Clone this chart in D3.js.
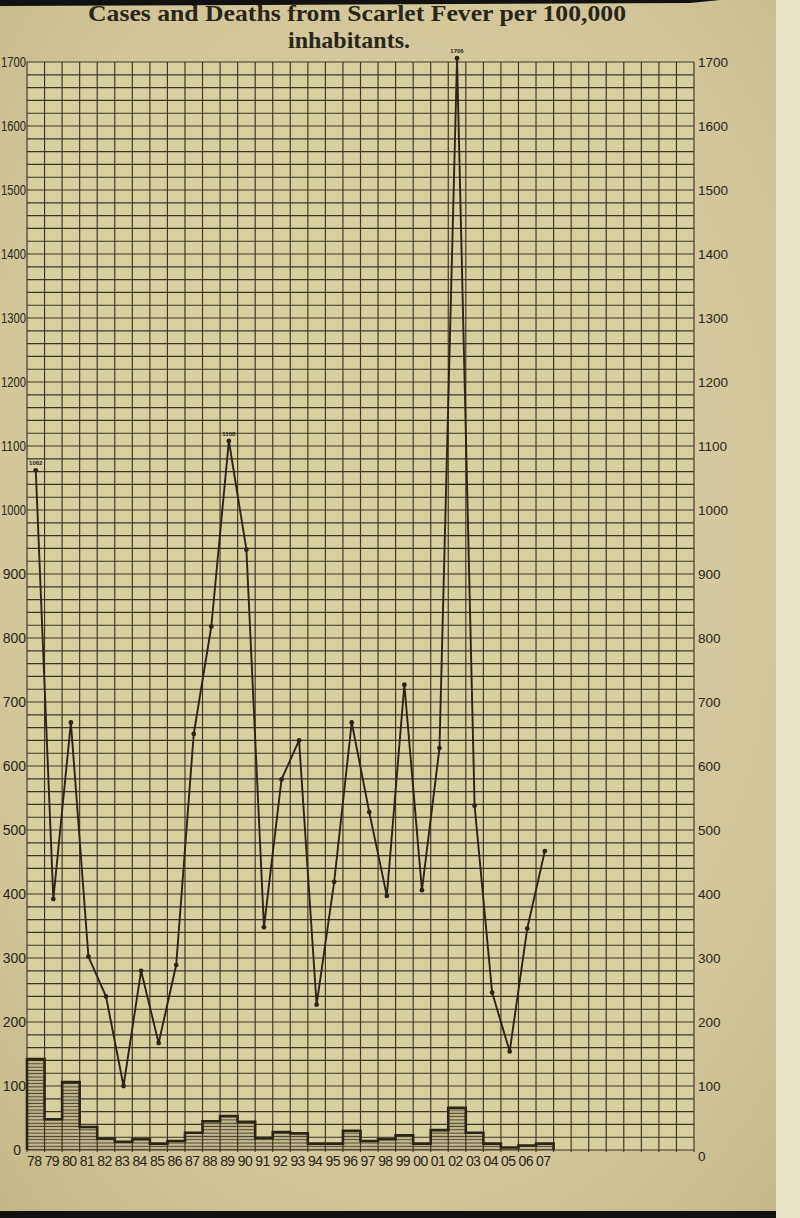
<!DOCTYPE html>
<html>
<head>
<meta charset="utf-8">
<script src="https://cdn.jsdelivr.net/npm/d3@7"></script>
<style>
  html, body { margin: 0; padding: 0; background: #d3c89b; }
  svg { display: block; }
</style>
</head>
<body>
<svg id="chart" width="800" height="1218"></svg>
<script>
// ---------- data ----------
const years = ["78","79","80","81","82","83","84","85","86","87","88","89","90","91","92","93","94","95","96","97","98","99","00","01","02","03","04","05","06","07"];
const blankColumns = ["b1","b2","b3","b4","b5","b6","b7","b8"];
const cases  = [1062, 392, 668, 302, 240, 100, 280, 167, 289, 650, 818, 1108, 938, 348, 579, 640, 227, 419, 668, 528, 397, 727, 406, 628, 1706, 538, 246, 154, 346, 467];
const deaths = [142, 48, 106, 36, 18, 13, 17, 10, 14, 27, 45, 53, 44, 19, 28, 26, 10, 10, 30, 14, 17, 23, 10, 31, 66, 27, 10, 4, 7, 10];
const peakYears  = ["78", "89", "02"];
const peakLabels = ["1062", "1108", "1706"];
const leftTickValues  = [0,100,200,300,400,500,600,700,800,900,1000,1100,1200,1300,1400,1500,1600,1700];
const leftTickLabels  = ["0","100","200","300","400","500","600","700","800","900","1000","1100","1200","1300","1400","1500","1600","1700"];
const rightTickLabels = ["0","100","200","300","400","500","600","700","800","900","1000","1100","1200","1300","1400","1500","1600","1700"];
const titleLines = ["Cases and Deaths from Scarlet Fever per 100,000", "inhabitants."];

// ---------- setup ----------
const svg = d3.select("#chart");
const W = 800, H = 1218;
const ink = "#2a2519";

const defs = svg.append("defs");
const vign = defs.append("radialGradient").attr("id", "vign").attr("cx", "50%").attr("cy", "45%").attr("r", "75%");
vign.append("stop").attr("offset", "0%").attr("stop-color", "#d9cfa3");
vign.append("stop").attr("offset", "70%").attr("stop-color", "#d2c699");
vign.append("stop").attr("offset", "100%").attr("stop-color", "#c4b787");

const hatch = defs.append("pattern").attr("id", "hatch").attr("patternUnits", "userSpaceOnUse")
  .attr("width", 8).attr("height", 3.3);
hatch.append("rect").attr("width", 8).attr("height", 3.3).attr("fill", "#c8bc8e");
hatch.append("line").attr("x1", 0).attr("x2", 8).attr("y1", 1.2).attr("y2", 1.2)
  .attr("stroke", "#3a3424").attr("stroke-width", 1.1);

// paper
svg.append("rect").attr("width", W).attr("height", H).attr("fill", "url(#vign)");
svg.append("rect").attr("x", 776).attr("y", 0).attr("width", 24).attr("height", H).attr("fill", "#e8e4c8");

// scales
const x = d3.scaleBand().domain(years.concat(blankColumns)).range([27, 694]).paddingInner(0).paddingOuter(0);
const y = d3.scaleLinear().domain([0, 1700]).range([1150, 62]);

// plot area
svg.append("rect").attr("x", x.range()[0]).attr("y", y(1700))
  .attr("width", x.range()[1] - x.range()[0]).attr("height", y(0) - y(1700))
  .attr("fill", "#d8cf9f");

// horizontal grid every 20
const gGrid = svg.append("g").attr("stroke", "#3d3626").attr("stroke-width", 1.15);
gGrid.selectAll("line.h").data(d3.range(0, 1701, 20)).join("line")
  .attr("x1", x.range()[0]).attr("x2", x.range()[1])
  .attr("y1", d => y(d)).attr("y2", d => y(d));
// vertical grid at column boundaries
const bounds = x.domain().map(d => x(d)).concat([x.range()[1]]);
gGrid.selectAll("line.v").data(bounds).join("line")
  .attr("x1", d => d).attr("x2", d => d)
  .attr("y1", y(1700)).attr("y2", y(0) + 2);

// deaths step bars
const gBars = svg.append("g");
gBars.selectAll("rect").data(years).join("rect")
  .attr("x", d => x(d)).attr("width", x.bandwidth())
  .attr("y", (d, i) => y(deaths[i])).attr("height", (d, i) => y(0) - y(deaths[i]))
  .attr("fill", "url(#hatch)").attr("opacity", 0.9);
gBars.selectAll("line").data(years).join("line")
  .attr("x1", d => x(d)).attr("x2", d => x(d))
  .attr("y1", (d, i) => y(deaths[i])).attr("y2", y(0))
  .attr("stroke", "#3d3626").attr("stroke-width", 1.2);
const stepPts = [[x(years[0]), y(0)]];
years.forEach((d, i) => {
  stepPts.push([x(d), y(deaths[i])]);
  stepPts.push([x(d) + x.bandwidth(), y(deaths[i])]);
});
stepPts.push([x(years[years.length - 1]) + x.bandwidth(), y(0)]);
gBars.append("path").attr("d", d3.line()(stepPts))
  .attr("fill", "none").attr("stroke", ink).attr("stroke-width", 2.6).attr("stroke-linejoin", "miter");

// cases line
const cx = d => x(d) + x.bandwidth() / 2;
const linePts = years.map((d, i) => [cx(d), y(cases[i])]);
svg.append("path").attr("d", d3.line()(linePts))
  .attr("fill", "none").attr("stroke", ink).attr("stroke-width", 1.9).attr("stroke-linejoin", "round");
svg.append("g").selectAll("circle").data(linePts).join("circle")
  .attr("cx", d => d[0]).attr("cy", d => d[1]).attr("r", 2.4).attr("fill", ink);

// peak labels
svg.append("g").selectAll("text").data(peakYears).join("text")
  .attr("x", d => cx(d)).attr("y", (d, i) => y(cases[years.indexOf(d)]) - 5)
  .attr("text-anchor", "middle").attr("font-family", "Liberation Sans, Arial, sans-serif")
  .attr("font-size", 6).attr("font-weight", "bold").attr("fill", ink)
  .text((d, i) => peakLabels[i]);

// left labels (4-digit ones squeezed so they stay on the page)
svg.append("g").selectAll("text").data(leftTickValues).join("text")
  .attr("x", (d, i) => leftTickLabels[i].length === 4 ? 1 : (d === 0 ? 21 : 26))
  .attr("y", d => y(d)).attr("dy", "0.36em")
  .attr("text-anchor", (d, i) => leftTickLabels[i].length === 4 ? "start" : "end")
  .attr("font-family", "Liberation Sans, Arial, sans-serif")
  .attr("font-size", 14).attr("fill", ink)
  .each(function (d, i) {
    if (leftTickLabels[i].length === 4) {
      d3.select(this).attr("textLength", 25).attr("lengthAdjust", "spacingAndGlyphs");
    }
  })
  .text((d, i) => leftTickLabels[i]);

// right labels
svg.append("g").selectAll("text").data(leftTickValues).join("text")
  .attr("x", 698).attr("y", d => y(d) + (d === 0 ? 6 : 0)).attr("dy", "0.36em")
  .attr("text-anchor", "start").attr("font-family", "Liberation Sans, Arial, sans-serif")
  .attr("font-size", 13.5).attr("fill", ink)
  .text((d, i) => rightTickLabels[i]);

// year labels
svg.append("g").selectAll("text").data(years).join("text")
  .attr("x", d => cx(d) - 1.5).attr("y", y(0) + 16)
  .attr("text-anchor", "middle").attr("font-family", "Liberation Sans, Arial, sans-serif")
  .attr("font-size", 14).attr("letter-spacing", -0.6).attr("fill", ink)
  .text(d => d);

// title
svg.append("text").attr("x", 357).attr("y", 21).attr("text-anchor", "middle")
  .attr("font-family", "Liberation Serif, Times New Roman, serif").attr("font-weight", "bold")
  .attr("font-size", 24).attr("fill", ink)
  .attr("textLength", 538).attr("lengthAdjust", "spacingAndGlyphs")
  .text(titleLines[0]);
svg.append("text").attr("x", 349).attr("y", 48).attr("text-anchor", "middle")
  .attr("font-family", "Liberation Serif, Times New Roman, serif").attr("font-weight", "bold")
  .attr("font-size", 24).attr("fill", ink)
  .attr("textLength", 122).attr("lengthAdjust", "spacingAndGlyphs")
  .text(titleLines[1]);

// scan edges
svg.append("path").attr("d", "M0,0 L720,0 L690,3 L0,6 Z").attr("fill", "#111");
svg.append("rect").attr("x", 0).attr("y", 1211).attr("width", 776).attr("height", 7).attr("fill", "#141210");
</script>
</body>
</html>
